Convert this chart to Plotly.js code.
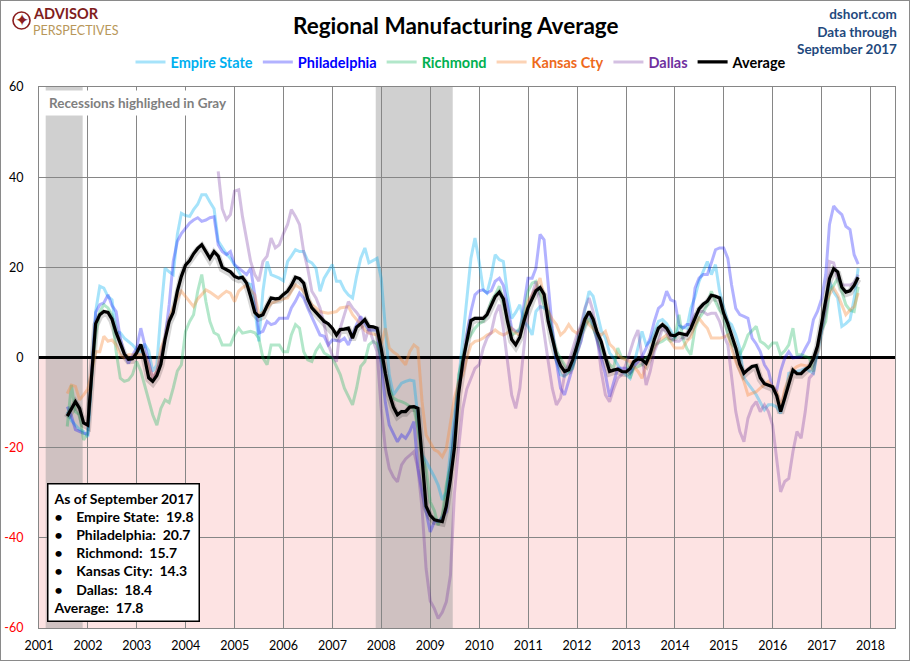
<!DOCTYPE html>
<html>
<head>
<meta charset="utf-8">
<script src="https://cdn.plot.ly/plotly-3.0.1.min.js"></script>
<style>
  html, body { margin: 0; padding: 0; background: #fff; }
  #wrap { width: 910px; height: 661px; box-sizing: border-box; border: 1px solid #8a8a8a; }
  #chart { width: 908px; height: 659px; }
</style>
</head>
<body>
<div id="wrap"><div id="chart"></div></div>
<script>
// ---------------- DATA (monthly, month-end) ----------------
const seriesNames = ["Empire State", "Philadelphia", "Richmond", "Kansas Cty", "Dallas", "Average"];
const boxNames = ["Empire State", "Philadelphia", "Richmond", "Kansas City", "Dallas"];
const startMain = [2001, 7];    // Jul 2001
const startDallas = [2004, 8];  // Aug 2004
const yearTicks = [2001,2002,2003,2004,2005,2006,2007,2008,2009,2010,2011,2012,2013,2014,2015,2016,2017,2018];
const yTickVals = [-60, -40, -20, 0, 20, 40, 60];
const dataThrough = "September 2017";
const recessions = [["2001-02-20", "2001-11-23"], ["2007-11-20", "2009-06-17"]];

const empire = [
  -12, -14, -15, -16, -16.4, -17.6,
  -3, 10.2, 15.8, 15.4, 13.5, 12.8, 5.8, 5.5, 4.3, 3.5, 2.8, 1.7,
  1.3, 3.0, 1.5, -3.1, -1.6, 10, 19.8, 19, 18.4, 27.3, 32, 31.5,
  31.3, 32.8, 34, 36.1, 36.1, 34.5, 33, 25.8, 24.3, 23, 22, 20.6,
  19, 17.6, 16.5, 16.2, 11, 3.6, 14.7, 21.3, 18.4, 18, 17.6, 17,
  21.3, 22.5, 23.9, 23.5, 23.5, 21.5, 21, 19.8, 14.7, 17.6, 19, 20.6,
  16.9, 16.9, 15, 13.9, 13.2, 18, 22, 24.3, 21, 21.5, 22, 17.6,
  6.5, -3.8, -8.3, -7, -5.7, -5.3, -5.0, -5.2, -12.7, -21.6, -23, -24.6,
  -26.5, -28.3, -31.6, -29.8, -21, -12, -5, 4, 14, 22, 26.5, 21.3,
  15, 14.3, 18, 22.8, 21.7, 21.3, 13.9, 8.7, 10, 11.7, 8, 6.9,
  5.0, 10.2, 11.3, 11, 10.2, 5, -0.9, -3.8, -4.2, -3, -1.6, 3,
  6.5, 10.5, 14.7, 13.6, 9.5, 6, 4.3, 1, -0.1, -1.6, -3.1, -3.8,
  -4.6, -1.6, 2, 5.8, 2.8, 3.6, 5.8, 8, 8.4, 7.5, 6, 4.3,
  6.9, 6.7, 6.5, 10.9, 13.5, 16.9, 19.1, 21.3, 18.4, 20.6, 14.7, 11,
  8, 7.3, 5, 2.1, -4.6, -5.7, -7, -8.3, -10, -11.6, -10.5, -10.5,
  -11, -12.4, -9, -3.5, -3.3, -3.1, -2.8, -2.4, -3, -3.5, 1.0, 5.8,
  12.4, 16.9, 14.5, 13.2, 6.9, 7.5, 8.4, 13, 19.8
];
const philadelphia = [
  -10.9, -13, -16, -16.4, -16.8, -17,
  -2, 10, 11.7, 12.1, 13.9, 11.5, 10.2, 4.3, 0.8, -1.3, 0.5, 2.1,
  6.5, 2.8, -1, -4.6, -3.1, 0, 4.3, 11.7, 21.3, 25.8, 27.5, 28.7,
  29.8, 30.5, 31, 30.2, 30.5, 31, 31.2, 25, 23.5, 22.8, 23.5, 20.6,
  19.8, 19, 18.4, 19.8, 13.9, 5.4, 5.8, 8, 7.3, 7.6, 8.7, 8.7,
  8.7, 11, 12.5, 14.3, 13.2, 11, 9, 6.9, 5, 4.7, 2.8, 3.9,
  3.7, 3.6, 4.3, 2.8, 5, 7.3, 9.1, 7.6, 6.1, 6.1, 6.1, -1.6,
  -10, -15, -17, -18.7, -17.2, -17.9, -16.4, -14.2, -24.6, -30, -34.2, -38.7,
  -36.4, -36.4, -35.5, -34.2, -24.6, -15.7, -6, -2.4, 5, 10.2, 13.9, 14.8,
  15, 14.3, 14.8, 16.9, 17.6, 16, 11.7, 6.5, 5.8, 5.8, 11.7, 17.6,
  17.6, 19.8, 27.3, 26.1, 16.1, 6.5, -0.9, -6.8, -8.3, -5, -2.4, 1,
  3.6, 8, 10.2, 7.3, 3.6, 0, -3.8, -8.7, -5.7, -2.4, -2.4, -2.4,
  -3.5, -2, -0.9, 0.2, 2.1, 4.3, 8, 10.9, 11.7, 14.7, 12.8, 12.4,
  7.3, 6.5, 7.3, 7.3, 15.4, 17.6, 18.4, 18.4, 21, 23.9, 24.3, 24.3,
  22, 16.1, 10.9, 9.5, 9.1, 8.7, 4.3, 3, 1.3, -1.6, -3, -6.8,
  -7.2, -3, -0.1, 1.3, -0.1, 0, 0.2, 2, 3.6, 8.4, 10.2, 13,
  18.4, 29.5, 33.6, 32.5, 31.7, 29.1, 28.4, 22.8, 20.7
];
const richmond = [
  -15.3, -6.1, -12, -12.7, -18.3, -16.8,
  -4, 5, 10.2, 11.7, 11, 9.5, 1.3, -4.6, -5.3, -5, -3.8, -0.9,
  -3, -6.1, -9, -12.7, -15, -11.3, -9.4, -10, -6.8, -3, -1.6, 5.8,
  8, 9.5, 14.7, 18.4, 12.4, 8, 5.5, 5, 2.8, 2.8, 2.8, 5,
  6.5, 5.4, 5.6, 5.8, 5.5, 4.3, -0.1, -1.6, 2.8, 2.8, 2.8, 1.3,
  1.3, 5, 7.3, 6.5, 1.3, -0.5, -0.9, 1.5, 2.8, 1.0, 0.5, -0.1,
  -2, -3.8, -6.8, -8.5, -10.5, -6.8, -2, -0.9, 2.8, 3.6, 3, -0.1,
  -3.5, -6.8, -9, -9.5, -9.8, -10.2, -10.8, -11.3, -15.7, -22, -24.6, -32,
  -34, -37.2, -35, -28.3, -24, -17.2, -3.8, 0, 3.6, 5, 6.5, 7.5,
  8, 9.5, 12.4, 13.9, 15.8, 12, 8.7, 5, 5.5, 6.5, 10, 14.7,
  16.5, 16.9, 14, 11.7, 10.2, 5, 1.3, -0.1, -1.5, -3.1, -2.4, 1,
  5, 7, 8.7, 6.5, 4.3, 2, -0.1, -1.5, -2.4, 2.1, -0.1, -0.1,
  -4.6, -2.4, -2, -1.6, -0.1, 0.5, 2.8, 3.2, 3.6, 4.3, 3.6, 4.3,
  9.5, 4.3, 2, 0.6, 6.5, 8.7, 10, 11.7, 14.7, 12.4, 10.5, 9.5,
  5, 3, 2.1, 0.6, 2.5, 5, 6, 6.9, 3.6, 3, 2.1, 3.2,
  3.2, 0.6, 1.5, 2.8, 6.5, 0.6, 0.6, 0.2, -0.1, -3.1, 2.1, 6,
  8, 14.7, 16, 17.6, 14.7, 11.7, 10.5, 10.2, 15.7
];
const kansasCity = [
  -8, -6.1, -6.4, -9.4, -8.3, -7,
  -3, 1.3, 1.3, 4.7, 3.6, 3.9, 2.8, 0.6, -0.1, 0.6, 0.6, 0.6,
  0.6, 0.6, -1.6, -4.6, -3, 2, 4.3, 8.7, 11, 13.2, 14.7, 13.5,
  12.4, 11.3, 13, 13.9, 15, 14.5, 13.9, 13.2, 14, 14.7, 14.3, 12.4,
  14.7, 15.5, 16.1, 15, 13.9, 9.5, 10, 11, 12, 12.4, 12.8, 13,
  13.2, 14.7, 16.1, 15.5, 14.7, 13.2, 11.7, 11, 10.2, 10, 9.8, 10,
  10.2, 11, 11.2, 11.3, 9.5, 8.5, 7.3, 6, 5.4, 5.2, 5, 2.8,
  6.5, 2.1, 1.2, 0.6, -0.5, -1.6, 1.3, 2.8, 2.1, -9.8, -17.2, -19,
  -20.5, -20.9, -22, -20.2, -14.2, -9, -5.5, -3.8, -0.1, 2.8, 3.6, 3.8,
  4.3, 5, 5.4, 6.1, 5.4, 5, 5.5, 6.5, 5.5, 5, 8, 12.4,
  14, 15.4, 17.6, 13.2, 10.2, 8.5, 7.3, 5, 5.8, 7.3, 6, 5.4,
  6.5, 8.7, 7.3, 6.5, 5.5, 5, 5.8, 3, 2.1, 0.6, -0.1, -0.5,
  -0.9, -2, -3.1, -4.6, -1.6, 0, 2.1, 3.6, 4.3, 5, 3.5, 2.1,
  2.1, 2.1, 3.6, 4.5, 7.3, 8.7, 7.5, 6.5, 4.3, 4.3, 4.3, 4.5,
  5, 2, -0.9, -3, -5.3, -8.3, -8, -7.6, -6.8, -6, -5.3, -6.5,
  -7.6, -11.3, -7, -4.6, -2.7, -2, -1.6, -1.8, -2, 0, 1.3, 7.3,
  12.4, 14, 15.4, 13.9, 11.7, 9.5, 10.5, 11.3, 14.3
];
const dallas = [
  41.3, 33, 30.6, 31.7, 36.9,
  37.2, 31.3, 26.5, 21.3, 18.4, 16.9, 21.3, 22.5, 26.5, 24.3, 25, 27.5,
  29.5, 32.8, 31.3, 29.5, 23.5, 19.8, 14.7, 13.2, 11, 7.3, 3, 0.5,
  -0.9, 6.5, 9.5, 12.4, 11, 10, 8.7, 3.6, 6.5, 4, 1.3, -11.3,
  -20.2, -24.6, -26.5, -27.6, -23.8, -22.5, -21.6, -20.9, -24.6, -33.5, -46.8, -54,
  -55.7, -57.9, -56.5, -54.2, -48.3, -30, -20, -11.3, -7, -4.6, -2.4, -1.6,
  2.1, 4.3, 5.5, 9.5, 11.7, 6.5, -0.9, -8.3, -11.3, -6.8, 2.1, 10.9,
  13.9, 16.9, 11.7, 5, -0.9, -6.8, -10.5, -9, -3.8, -1, 2.1, 5,
  7.3, 11, 13.2, 10.2, 4.3, -3.1, -8.3, -9.8, -7, -4.6, -3.8, -1.5,
  1.3, 4, 6.1, 0.6, -6.1, -3.1, 1.3, 3.6, 6.5, 5.8, 4.3, 3.6,
  3.6, 4.3, 5.5, 6.5, 9.5, 10.2, 10.2, 9.5, 9.8, 9.8, 8, 5,
  2.8, -4.6, -12, -16.4, -18.7, -13.5, -11, -9.8, -12, -10.5, -12, -15,
  -22.4, -29.8, -27.5, -26.8, -20.9, -16.4, -17.9, -12, -4.6, -3.5, 2.1, 6,
  10.9, 21.3, 21, 17.6, 16.1, 16.1, 16.1, 16.5, 18.4
];
const average = [
  -13, -11.5, -9.8, -11.3, -14.5, -15,
  -4, 7.5, 9.5, 10.2, 10, 8.5, 5.5, 2.9, 0.8, -0.4, -0.3, 1.0,
  2.9, 0, -4.5, -5.3, -4, -1.5, 4, 8, 10, 14.7, 18, 20.5,
  21.5, 23, 24.2, 25, 23.5, 22, 23.5, 22.5, 20, 19.5, 19, 18,
  17.6, 17.8, 16.5, 13.5, 10, 9.1, 9.5, 11.5, 13.2, 13, 13.1, 14,
  14.7, 16, 17.8, 17.5, 16.5, 13, 11, 10, 9, 8, 7.5, 6.5,
  5.0, 6.2, 6.3, 6.5, 4.3, 6.7, 7.5, 8.4, 6.9, 6.8, 6.5, 2.0,
  -3.5, -8, -11, -12.7, -12, -12, -11, -10.9, -11.3, -23, -33, -35,
  -36, -36.2, -36.4, -33, -27, -20, -8, -1, 3.5, 8.2, 8.7, 8.7,
  8.7, 9.5, 11.5, 13.5, 14.5, 13, 8, 4, 2.8, 4.5, 8, 11,
  13, 14.8, 15.5, 14, 8, 4, 0.5, -1.8, -3.1, -2.7, -0.5, 2.5,
  5.8, 8.5, 10.2, 8.5, 5.5, 3.5, 0, -3.1, -2.8, -2.6, -3.1, -3.2,
  -2.5, -0.9, -0.3, -0.5, -1.3, 0.8, 4, 6.5, 7.3, 6.5, 5, 4.8,
  5.4, 5.2, 5.0, 6.5, 8.8, 10.8, 11.8, 12.5, 13.8, 13.6, 13.2, 9.8,
  7.5, 5, 2.1, -1.5, -3.5, -2.7, -2.0, -1.8, -4.5, -5.8, -6.1, -6.5,
  -8.5, -12, -9, -6, -2.8, -3.6, -3.6, -2.7, -2, -0.3, 2.5, 7.5,
  13, 17.5, 19.7, 19, 15.6, 14.5, 14.8, 16, 17.8
];

// ---------------- HELPERS ----------------
function monthEnds(start, n) {
  const out = [];
  for (let i = 0; i < n; i++) {
    const k = start[1] - 1 + i;
    const y = start[0] + Math.floor(k / 12);
    const m = (k % 12) + 1;
    out.push(new Date(Date.UTC(y, m, 0)).toISOString().slice(0, 10));
  }
  return out;
}
const W = 908, H = 659;
const M = { l: 38, r: 14, t: 86, b: 32 };
const PW = W - M.l - M.r, PH = H - M.t - M.b;
// page pixel -> paper coords (page has 1px border offset)
const px = p => (p - 1 - M.l) / PW;
const py = p => 1 - (p - 1 - M.t) / PH;

const FONT = "Lato, 'Open Sans', sans-serif";
const lineColors = ["rgba(0,176,240,0.35)", "rgba(0,0,255,0.30)", "rgba(0,176,80,0.30)",
                    "rgba(247,140,60,0.38)", "rgba(112,48,160,0.30)", "#000000"];
const textColors = ["#00b0f0", "#0000ff", "#00b050", "#ee6a1c", "#7030a0", "#000000"];
const values = [empire, philadelphia, richmond, kansasCity, dallas, average];
const starts = [startMain, startMain, startMain, startMain, startDallas, startMain];

const traces = [];
for (let i = 0; i < 5; i++) {
  traces.push({
    type: "scatter", mode: "lines",
    x: monthEnds(starts[i], values[i].length), y: values[i],
    name: `<span style="color:${textColors[i]}">${seriesNames[i]}</span>`,
    line: { color: lineColors[i], width: 3 },
    hoverinfo: "skip"
  });
}
// soft shadow under the average line
traces.push({
  type: "scatter", mode: "lines",
  x: monthEnds(startMain, average.length), y: average.map(v => v - 0.35),
  line: { color: "rgba(0,0,0,0.16)", width: 7 }, showlegend: false, hoverinfo: "skip"
});
traces.push({
  type: "scatter", mode: "lines",
  x: monthEnds(startMain, average.length), y: average,
  name: `<span style="color:#000">${seriesNames[5]}</span>`,
  line: { color: "#000000", width: 3.2 }, hoverinfo: "skip"
});

const yTickText = yTickVals.map(v => v < 0 ? `<span style="color:#ff0000">${v}</span>` : String(v));

const shapes = [
  { type: "rect", xref: "paper", yref: "y", x0: 0, x1: 1, y0: -60, y1: 0,
    fillcolor: "#fde3e3", line: { width: 0 }, layer: "below" }
];
recessions.forEach(r => shapes.push({
  type: "rect", xref: "x", yref: "paper", x0: r[0], x1: r[1], y0: 0, y1: 1,
  fillcolor: "rgba(150,150,150,0.45)", line: { width: 0 }, layer: "below"
}));
// logo circle
shapes.push({ type: "circle", xref: "paper", yref: "paper",
  x0: px(13), x1: px(30), y0: py(12), y1: py(29),
  line: { color: "#8b1e1e", width: 1.6 }, fillcolor: "rgba(0,0,0,0)" });

const nb = "\u00a0";
const boxLines = ["As of " + dataThrough];
for (let i = 0; i < 5; i++) {
  const arr = values[i];
  boxLines.push("•" + nb.repeat(4) + boxNames[i] + ":" + nb + nb + arr[arr.length - 1].toFixed(1));
}
boxLines.push("Average:" + nb + nb + average[average.length - 1].toFixed(1));

const annotations = [
  { xref: "paper", yref: "paper", x: px(455.5), y: py(25), xanchor: "center", yanchor: "middle",
    text: "<b>Regional Manufacturing Average</b>", showarrow: false,
    font: { family: FONT, size: 22.5, color: "#000" } },
  { xref: "paper", yref: "paper", x: px(899), y: py(4), xanchor: "right", yanchor: "top",
    text: "<b>dshort.com<br>Data through<br>" + dataThrough + "</b>", showarrow: false, align: "right",
    font: { family: FONT, size: 13.5, color: "#1f497d" } },
  { xref: "paper", yref: "paper", x: px(21.5), y: py(20.5), xanchor: "center", yanchor: "middle",
    text: "✦", showarrow: false, font: { family: "DejaVu Sans", size: 17, color: "#8b1e1e" } },
  { xref: "paper", yref: "paper", x: px(32), y: py(13.5), xanchor: "left", yanchor: "middle",
    text: "<b>ADVISOR</b>", showarrow: false, borderpad: 0,
    font: { family: FONT, size: 14.5, color: "#7f1d1d" } },
  { xref: "paper", yref: "paper", x: px(32), y: py(30.5), xanchor: "left", yanchor: "middle",
    text: "PERSPECTIVES", showarrow: false, borderpad: 0,
    font: { family: FONT, size: 12.5, color: "#b8975a" } },
  { xref: "paper", yref: "paper", x: px(44), y: py(102.5), xanchor: "left", yanchor: "middle",
    text: "<b>Recessions highlighed in Gray</b>", showarrow: false, bgcolor: "#ffffff", borderpad: 4,
    font: { family: FONT, size: 13.5, color: "#7f7f7f" } },
  { xref: "paper", yref: "paper", x: px(47), y: py(622), xanchor: "left", yanchor: "bottom",
    text: "<b>" + boxLines.join("<br>") + "</b>", showarrow: false, align: "left",
    bgcolor: "#ffffff", bordercolor: "#000000", borderwidth: 1.5, borderpad: 5,
    font: { family: FONT, size: 14, color: "#000" } }
];

const layout = {
  width: W, height: H, margin: M,
  paper_bgcolor: "#ffffff", plot_bgcolor: "#ffffff",
  font: { family: FONT, size: 12, color: "#000" },
  showlegend: true,
  legend: { orientation: "h", x: px(461), xanchor: "center", y: py(62), yanchor: "middle",
    font: { family: FONT, size: 14.5, weight: "bold" }, bgcolor: "rgba(0,0,0,0)",
    traceorder: "normal", itemwidth: 30 },
  xaxis: {
    type: "date", range: ["2001-01-01", "2018-07-02"],
    tickvals: yearTicks.map(y => y + "-01-01"), ticktext: yearTicks.map(String),
    showgrid: true, gridcolor: "#868686", gridwidth: 1,
    showline: true, mirror: true, linecolor: "#868686", linewidth: 1,
    ticks: "", ticklabelstandoff: 6, tickfont: { family: FONT, size: 12.5, color: "#000" },
    fixedrange: true
  },
  yaxis: {
    range: [-60, 60], tickvals: yTickVals, ticktext: yTickText,
    showgrid: true, gridcolor: "#868686", gridwidth: 1,
    zeroline: true, zerolinecolor: "#000000", zerolinewidth: 2.2,
    showline: true, mirror: true, linecolor: "#868686", linewidth: 1,
    ticks: "", ticklabelstandoff: 12, tickfont: { family: FONT, size: 12.5, color: "#000" },
    fixedrange: true
  },
  shapes: shapes,
  annotations: annotations
};

Plotly.newPlot("chart", traces, layout, { staticPlot: true, displayModeBar: false });
</script>
</body>
</html>
